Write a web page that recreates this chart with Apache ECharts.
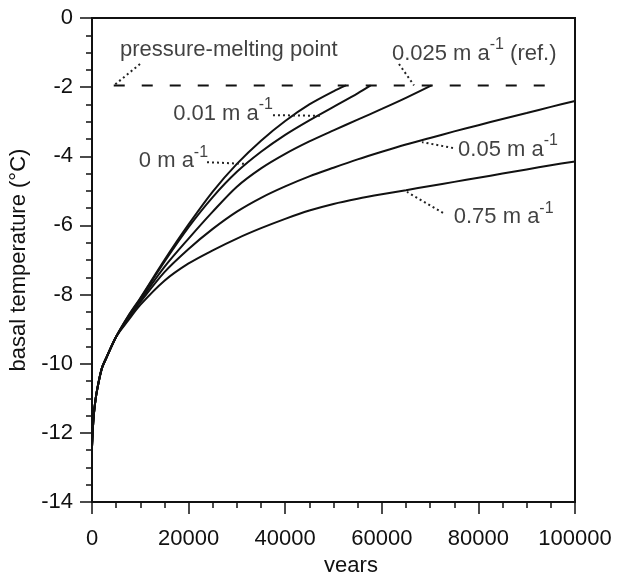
<!DOCTYPE html>
<html>
<head>
<meta charset="utf-8">
<style>html,body{margin:0;padding:0;background:#fff}#main{width:618px;height:572px}</style>
<script src="https://cdn.jsdelivr.net/npm/echarts@6/dist/echarts.min.js"></script>
</head>
<body>
<div id="main"></div>
<script>
// common start of all curves (they overlap there)
var startYears = [0, 250, 500, 1000, 2000, 3000, 5000];
var startTemp = [-12.4, -11.7, -11.3, -10.8, -10.15, -9.82, -9.22];

// 0 m/a
var years0 = [7500, 10000, 15000, 20000, 25000, 30000, 35000, 40000, 45000, 50000, 52600];
var temp0 = [-8.62, -8.1, -7.0, -5.97, -5.02, -4.22, -3.55, -2.98, -2.5, -2.12, -1.95];
// 0.01 m/a
var years01 = [7500, 10000, 15000, 20000, 25000, 30000, 35000, 40000, 45000, 50000, 55000, 57700];
var temp01 = [-8.63, -8.12, -7.05, -6.05, -5.18, -4.45, -3.87, -3.38, -2.96, -2.57, -2.18, -1.95];
// 0.025 m/a (ref.)
var years025 = [7500, 10000, 15000, 20000, 25000, 30000, 35000, 40000, 45000, 50000, 55000, 60000, 65000, 70300];
var temp025 = [-8.66, -8.17, -7.2, -6.38, -5.6, -4.88, -4.35, -3.93, -3.57, -3.25, -2.94, -2.63, -2.31, -1.95];
// 0.05 m/a
var years05 = [7500, 10000, 15000, 20000, 25000, 30000, 35000, 40000, 45000, 50000, 55000, 60000, 65000, 70000, 75000, 80000, 85000, 90000, 95000, 100000];
var temp05 = [-8.7, -8.22, -7.35, -6.68, -6.1, -5.6, -5.2, -4.87, -4.58, -4.33, -4.09, -3.87, -3.66, -3.47, -3.28, -3.1, -2.92, -2.75, -2.57, -2.4];
// 0.75 m/a
var years75 = [7500, 10000, 15000, 20000, 25000, 30000, 35000, 40000, 45000, 50000, 55000, 60000, 65000, 70000, 75000, 80000, 85000, 90000, 95000, 100000];
var temp75 = [-8.75, -8.3, -7.6, -7.1, -6.72, -6.38, -6.08, -5.81, -5.57, -5.38, -5.23, -5.1, -4.98, -4.86, -4.74, -4.62, -4.5, -4.38, -4.26, -4.15];

// pressure-melting point
var meltTemp = -1.95;
var meltYears = [4500, 95000];

// annotations
var labelTexts = [
    '{n|pressure-melting point}',
    '{n|0.025 m a}{s|-1}{n| (ref.)}',
    '{n|0.01 m a}{s|-1}',
    '{n|0 m a}{s|-1}',
    '{n|0.05 m a}{s|-1}',
    '{n|0.75 m a}{s|-1}'
];
var labelYears = [5800, 62100, 16800, 9700, 75800, 74900];
var labelTemps = [-0.85, -0.94, -2.68, -4.06, -3.72, -5.68];
var leaderYears = [[9940, 4550], [63560, 66670], [37470, 47620], [23810, 31680], [74740, 68320], [72670, 65220]];
var leaderTemps = [[-1.33, -1.95], [-1.33, -1.95], [-2.81, -2.83], [-4.17, -4.22], [-3.76, -3.59], [-5.64, -5.03]];

var xTicks = [0, 20000, 40000, 60000, 80000, 100000];

function pairs(xs, ys) {
    var out = [];
    for (var i = 0; i < xs.length; i++) out.push([xs[i], ys[i]]);
    return out;
}
function curve(xs, ys) {
    return {
        type: 'line',
        data: pairs(startYears, startTemp).concat(pairs(xs, ys)),
        showSymbol: false,
        smooth: 0.3,
        lineStyle: { color: '#111', width: 2 },
        silent: true
    };
}

var font = 'Liberation Sans, Arial, Helvetica, sans-serif';
var series = [
    curve(years0, temp0),
    curve(years01, temp01),
    curve(years025, temp025),
    curve(years05, temp05),
    curve(years75, temp75),
    {
        type: 'line',
        data: [[meltYears[0], meltTemp], [meltYears[1], meltTemp]],
        showSymbol: false,
        lineStyle: { color: '#111', width: 2, type: [11, 17] },
        silent: true
    }
];
for (var i = 0; i < leaderYears.length; i++) {
    series.push({
        type: 'line',
        data: pairs(leaderYears[i], leaderTemps[i]),
        showSymbol: false,
        lineStyle: { color: '#222', width: 2, type: [2, 3] },
        silent: true
    });
}
var labelData = [];
for (var j = 0; j < labelTexts.length; j++) {
    labelData.push({ value: [labelYears[j], labelTemps[j]], name: labelTexts[j] });
}
series.push({
    type: 'scatter',
    data: labelData,
    symbolSize: 0,
    silent: true,
    label: {
        show: true,
        position: 'right',
        distance: 0,
        formatter: function (p) { return p.name; },
        rich: {
            n: { fontFamily: font, fontSize: 22, lineHeight: 28, verticalAlign: 'bottom', color: '#111' },
            s: { fontFamily: font, fontSize: 16, lineHeight: 28, verticalAlign: 'top', color: '#111' }
        }
    }
});

var myChart = echarts.init(document.getElementById('main'));
var option = {
    animation: false,
    backgroundColor: '#fff',
    grid: {
        left: 92, right: 43, top: 18, bottom: 70,
        outerBoundsMode: 'none',
        show: true, borderColor: '#111', borderWidth: 2
    },
    xAxis: {
        type: 'value',
        min: 0, max: 100000, interval: 20000,
        name: 'years',
        nameLocation: 'middle',
        nameGap: 47,
        nameTextStyle: { fontFamily: font, fontSize: 22, color: '#111', padding: [0, 0, 0, 35] },
        axisLine: { onZero: false, lineStyle: { color: '#111', width: 2 } },
        axisTick: { length: 12, lineStyle: { color: '#111', width: 1.5 } },
        minorTick: { show: true, splitNumber: 4, length: 6, lineStyle: { color: '#111', width: 1.5 } },
        splitLine: { show: false },
        axisLabel: {
            margin: 26, fontFamily: font, fontSize: 22, color: '#111',
            formatter: function (v) { return xTicks.indexOf(v) >= 0 ? String(v) : ''; }
        }
    },
    yAxis: {
        type: 'value',
        min: -14, max: 0, interval: 2,
        name: 'basal temperature (°C)',
        nameLocation: 'middle',
        nameGap: 47,
        nameTextStyle: { fontFamily: font, fontSize: 22, color: '#111' },
        axisLine: { onZero: false, lineStyle: { color: '#111', width: 2 } },
        axisTick: { length: 12, lineStyle: { color: '#111', width: 1.5 } },
        minorTick: { show: true, splitNumber: 4, length: 6, lineStyle: { color: '#111', width: 1.5 } },
        splitLine: { show: false },
        axisLabel: { margin: 19, fontFamily: font, fontSize: 22, color: '#111' }
    },
    series: series
};
myChart.setOption(option);
</script>
</body>
</html>
